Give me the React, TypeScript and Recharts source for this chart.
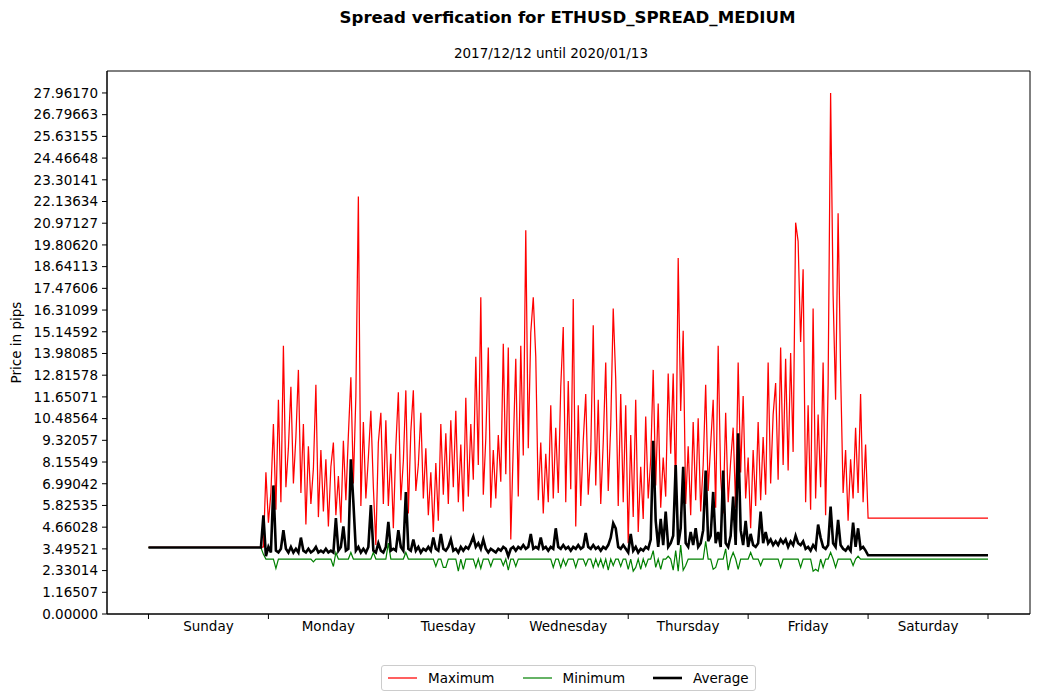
import { Legend, Line, LineChart, ReferenceArea, XAxis, YAxis } from "recharts";
import { type JSX } from "react";

// hours since Sunday 00:00, half-hour steps inside each trading day
const STEP = 0.5;
const DAY_NAMES = ["Sunday", "Monday", "Tuesday", "Wednesday", "Thursday", "Friday", "Saturday"];
const X_TICKS = [0, 12, 24, 36, 48, 60, 72, 84, 96, 108, 120, 132, 144, 156, 168];
const X_DOMAIN = [-8.3, 176.4];
const Y_DOMAIN = [0, 29.14];
const Y_TICK_LABELS = [
  "0.00000", "1.16507", "2.33014", "3.49521", "4.66028", "5.82535", "6.99042", "8.15549",
  "9.32057", "10.48564", "11.65071", "12.81578", "13.98085", "15.14592", "16.31099",
  "17.47606", "18.64113", "19.80620", "20.97127", "22.13634", "23.30141", "24.46648",
  "25.63155", "26.79663", "27.96170",
];

const SUNDAY_LEVEL = 3.57;
const SUNDAY_END = 22.5;
const DAY_STARTS = { max: [23, 48, 73, 97, 122.5], min: [23, 48, 72, 96, 120], avg: [23, 48, 72, 96, 120] };

const maxMon = [3.6, 7.6, 4.9, 6.5, 10.2, 5.6, 11.5, 6.0, 14.4, 6.8, 8.9, 12.2, 7.0, 9.5, 13.1, 6.5, 10.2, 4.8, 9.0, 5.9, 7.8, 12.3, 5.2, 8.8, 5.5, 8.3, 4.7, 7.9, 9.2, 5.3, 7.4, 4.9, 9.3, 6.1, 9.6, 12.7, 7.0, 11.7, 22.4, 5.8, 10.3, 6.2, 8.4, 10.9, 6.8, 3.7, 9.2, 10.8, 5.9, 10.4];
const maxTue = [5.8, 8.6, 4.6, 9.0, 11.9, 6.1, 8.2, 12.0, 5.4, 9.8, 12.0, 6.6, 8.0, 10.8, 6.2, 8.9, 5.3, 7.6, 4.4, 8.1, 5.0, 10.2, 6.4, 9.7, 5.9, 10.4, 6.8, 10.9, 6.0, 9.1, 5.5, 11.6, 6.3, 10.2, 7.2, 13.8, 8.0, 17.0, 6.4, 9.4, 14.3, 5.7, 8.8, 6.2, 9.6, 7.1, 14.5, 7.5, 14.3, 4.0];
const maxWed = [9.0, 13.7, 6.3, 14.4, 8.5, 20.6, 8.9, 15.1, 17.0, 13.8, 6.1, 9.2, 5.4, 8.6, 6.0, 11.2, 6.2, 10.0, 6.5, 12.2, 15.4, 6.0, 12.5, 6.7, 16.9, 4.7, 11.2, 5.8, 9.3, 11.8, 6.4, 8.7, 15.5, 6.9, 11.5, 5.9, 9.2, 13.5, 6.6, 10.1, 16.4, 12.6, 5.8, 11.8, 6.0, 11.2, 3.8, 9.6];
const maxThu = [5.2, 11.5, 4.4, 7.9, 5.1, 10.6, 6.2, 8.3, 13.1, 6.9, 11.3, 5.7, 8.4, 6.3, 12.9, 8.6, 12.9, 6.4, 19.1, 10.9, 15.2, 5.9, 9.0, 5.3, 10.3, 6.1, 10.5, 5.5, 8.0, 12.3, 6.6, 9.1, 11.5, 5.7, 14.4, 7.3, 5.4, 10.8, 6.0, 8.2, 10.0, 5.7, 13.5, 7.6, 11.7, 6.2, 8.4, 4.6, 8.8, 5.8, 10.3];
const maxFri = [6.1, 9.5, 6.4, 13.5, 7.0, 10.7, 12.4, 7.2, 14.3, 8.0, 13.7, 7.7, 14.0, 8.7, 21.0, 20.0, 14.6, 18.5, 6.0, 11.2, 5.6, 16.4, 6.2, 10.7, 6.8, 13.5, 5.3, 12.3, 27.9617, 17.1, 11.5, 21.5, 13.0, 6.5, 8.8, 5.0, 8.3, 6.2, 10.0, 6.5, 11.8, 6.0, 9.1, 5.15];
const maxSaturday = 5.15;

const B = 2.95; // usual minimum spread
const minMon = [3.2, B, B, B, B, 2.45, B, B, B, B, B, B, B, B, B, B, B, B, B, B, 2.8, B, B, B, B, B, B, B, 2.55, 3.3, B, B, B, B, B, 3.3, B, B, B, B, B, B, B, B, 3.3, B, B, B, B, B];
const minTue = [3.8, B, B, B, B, B, B, 3.3, B, B, B, B, B, B, B, B, B, B, B, 2.55, B, B, 2.5, 2.5, B, B, B, B, 2.3, B, 2.4, B, B, B, B, 2.5, B, 2.45, B, B, B, 2.55, B, B, B, B, 2.6, B];
const minWed = [2.35, B, B, 2.55, B, B, B, B, B, B, B, B, B, B, B, B, B, B, 2.5, B, B, 2.5, B, 2.6, B, B, B, 2.5, B, B, B, 2.6, B, B, 2.5, B, 2.55, B, 2.5, B, 2.35, B, 2.6, B, B, 2.55, B, B];
const minThu = [2.4, B, 2.3, 2.5, B, 2.4, B, 2.55, B, B, 3.4, 2.5, B, 2.4, B, B, 3.1, B, 2.35, 3.4, 2.3, 3.7, 2.35, 2.6, B, B, B, B, B, B, B, 3.9, B, B, 2.4, 2.5, B, B, B, 3.5, 2.35, B, 3.3, B, 2.4, B, B, B];
const minFri = [B, 3.3, B, B, B, 2.6, B, B, B, B, B, B, B, 2.5, B, B, B, B, B, B, B, 2.5, B, B, B, B, 2.3, 2.4, 2.3, B, 2.5, B, B, 3.3, B, 2.5, B, B, B, B, B, B, 2.6, B, 3.1, B, B, B, B];
const minSaturday = 2.95;

const avgMon = [5.3, 3.1, 3.6, 3.3, 6.9, 3.4, 3.3, 3.5, 4.5, 3.5, 3.3, 3.6, 3.3, 3.5, 3.3, 4.1, 3.4, 3.3, 3.5, 3.3, 3.4, 3.6, 3.3, 3.4, 3.3, 3.5, 3.3, 3.4, 3.3, 5.15, 3.4, 3.6, 4.7, 3.4, 3.5, 8.3, 6.0, 3.4, 3.6, 3.3, 3.5, 3.3, 3.6, 5.85, 3.4, 3.3, 3.8, 3.4, 3.3, 3.6];
const avgTue = [4.95, 3.4, 3.5, 3.4, 4.5, 3.6, 3.4, 6.55, 3.5, 3.4, 4.0, 3.4, 3.6, 3.3, 3.5, 3.4, 3.6, 3.4, 4.1, 3.5, 3.4, 4.3, 3.5, 3.4, 3.6, 4.0, 3.4, 3.5, 3.3, 3.6, 3.4, 3.6, 3.5, 3.8, 4.15, 3.6, 3.8, 3.5, 4.0, 3.5, 3.3, 3.5, 3.4, 3.3, 3.5, 3.4, 3.6, 3.5];
const avgWed = [3.1, 3.5, 3.6, 3.4, 3.6, 3.5, 3.7, 3.5, 3.6, 4.3, 3.5, 3.6, 3.5, 4.1, 3.5, 3.6, 3.4, 3.6, 3.5, 4.6, 3.6, 3.5, 3.7, 3.5, 3.6, 3.4, 3.6, 3.5, 3.7, 3.5, 3.6, 4.35, 3.6, 3.5, 3.7, 3.5, 3.6, 3.4, 3.6, 3.5, 3.7, 4.1, 4.87, 4.6, 3.6, 3.5, 3.7, 3.5];
const avgThu = [3.3, 4.3, 3.4, 3.6, 3.3, 3.5, 3.4, 3.6, 3.5, 4.0, 9.3, 5.0, 3.6, 5.1, 3.7, 5.5, 3.6, 3.8, 4.2, 8.0, 3.7, 4.6, 7.9, 3.8, 3.6, 4.4, 3.7, 4.6, 3.6, 3.8, 4.5, 7.7, 3.9, 4.2, 6.55, 3.8, 4.4, 3.6, 7.7, 3.8, 3.6, 4.2, 6.3, 3.7, 9.7, 4.5, 3.7, 5.0];
const avgFri = [3.6, 4.3, 3.7, 3.6, 3.8, 5.5, 3.8, 4.4, 3.8, 4.0, 3.7, 3.9, 3.7, 4.0, 3.8, 4.0, 3.6, 3.9, 3.7, 4.2, 3.8, 3.7, 3.9, 3.5, 3.6, 3.4, 3.7, 3.5, 4.8, 4.1, 3.6, 3.5, 3.7, 5.76, 3.8, 3.6, 5.05, 3.7, 3.5, 3.4, 3.6, 3.4, 4.9, 3.6, 4.6, 3.5, 3.6, 3.4, 3.15];
const avgSaturday = 3.15;

interface IPoint {
  h: number;
  v: number;
}

const buildSeries = (starts: number[], days: number[][], saturday: number): IPoint[] => [
  { h: 0, v: SUNDAY_LEVEL },
  { h: SUNDAY_END, v: SUNDAY_LEVEL },
  ...days.flatMap((vals, d) => vals.map((v, i) => ({ h: starts[d] + i * STEP, v }))),
  { h: 168, v: saturday },
];

const maxData = buildSeries(DAY_STARTS.max, [maxMon, maxTue, maxWed, maxThu, maxFri], maxSaturday);
const minData = buildSeries(DAY_STARTS.min, [minMon, minTue, minWed, minThu, minFri], minSaturday);
const avgData = buildSeries(DAY_STARTS.avg, [avgMon, avgTue, avgWed, avgThu, avgFri], avgSaturday);

const SERIES = [
  { name: "Maximum", color: "#ff0000", width: 1.25, data: maxData },
  { name: "Minimum", color: "#008000", width: 1.2, data: minData },
  { name: "Average", color: "#000000", width: 2.6, data: avgData },
];

const FONT = "'DejaVu Sans', sans-serif";

const DayTick = (props: any): JSX.Element => {
  const { x, y, payload } = props;
  const value: number = payload.value;
  if (value % 24 === 0) {
    return <line x1={x} x2={x} y1={y - 7} y2={y - 2} stroke="#000" />;
  }
  return (
    <text x={x} y={y} dy="0.75em" textAnchor="middle" fill="#000" fontSize={13.5} fontFamily={FONT}>
      {DAY_NAMES[(value - 12) / 24]}
    </text>
  );
};

const YLabel = (props: any): JSX.Element => {
  const { viewBox } = props;
  const cx = viewBox.x + 16;
  const cy = viewBox.y + viewBox.height / 2;
  return (
    <text
      transform={`translate(${cx}, ${cy}) rotate(-90)`}
      textAnchor="middle"
      dominantBaseline="central"
      fill="#000"
      fontSize={13.5}
      fontFamily={FONT}
    >
      Price in pips
    </text>
  );
};

const LegendBox = (): JSX.Element => (
  <div
    style={{
      display: "flex",
      alignItems: "center",
      height: 24,
      padding: "0 6px",
      border: "1px solid #cccccc",
      borderRadius: 3,
      background: "#fff",
      fontFamily: FONT,
      fontSize: 13.5,
      color: "#000",
    }}
  >
    {SERIES.map((s, i) => (
      <div key={s.name} style={{ display: "flex", alignItems: "center", marginLeft: i === 0 ? 0 : 28 }}>
        <svg width={29} height={10}>
          <line x1={0} x2={29} y1={5} y2={5} stroke={s.color} strokeWidth={s.width} />
        </svg>
        <span style={{ marginLeft: 11 }}>{s.name}</span>
      </div>
    ))}
  </div>
);

export default function App(): JSX.Element {
  return (
    <div style={{ position: "absolute", left: 0, top: 0, width: 1039, height: 700, background: "#fff", fontFamily: FONT }}>
      <div style={{ position: "absolute", left: 0, top: 8, width: 1135, textAlign: "center", fontSize: 16.6, fontWeight: "bold" }}>
        Spread verfication for ETHUSD_SPREAD_MEDIUM
      </div>
      <div style={{ position: "absolute", left: 0, top: 45, width: 1102, textAlign: "center", fontSize: 13.5 }}>
        2017/12/12 until 2020/01/13
      </div>
      <LineChart
        width={1039}
        height={700}
        margin={{ top: 71, right: 9, bottom: 56, left: 0 }}
        style={{ position: "absolute", left: 0, top: 0 }}
      >
        <XAxis
          type="number"
          dataKey="h"
          domain={X_DOMAIN}
          ticks={X_TICKS}
          interval={0}
          height={30}
          tickSize={5}
          tickMargin={2}
          tickLine={false}
          axisLine={{ stroke: "#000" }}
          tick={<DayTick />}
        />
        <YAxis
          type="number"
          domain={Y_DOMAIN}
          ticks={Y_TICK_LABELS.map(Number)}
          interval={0}
          width={107}
          tickSize={5}
          tickMargin={4}
          tickFormatter={(v: number) => v.toFixed(5)}
          tick={{ fill: "#000", fontSize: 13.5, fontFamily: FONT }}
          tickLine={{ stroke: "#000" }}
          axisLine={{ stroke: "#000" }}
          label={YLabel}
        />
        <ReferenceArea
          x1={X_DOMAIN[0]}
          x2={X_DOMAIN[1]}
          y1={Y_DOMAIN[0]}
          y2={Y_DOMAIN[1]}
          fill="none"
          stroke="#000"
          strokeWidth={1}
          ifOverflow="visible"
        />
        {SERIES.map((s) => (
          <Line
            key={s.name}
            data={s.data}
            dataKey="v"
            name={s.name}
            type="linear"
            stroke={s.color}
            strokeWidth={s.width}
            dot={false}
            activeDot={false}
            isAnimationActive={false}
          />
        ))}
        <Legend
          layout="horizontal"
          verticalAlign="middle"
          align="center"
          wrapperStyle={{ left: 381, top: 665, width: "auto" }}
          content={<LegendBox />}
        />
      </LineChart>
    </div>
  );
}
